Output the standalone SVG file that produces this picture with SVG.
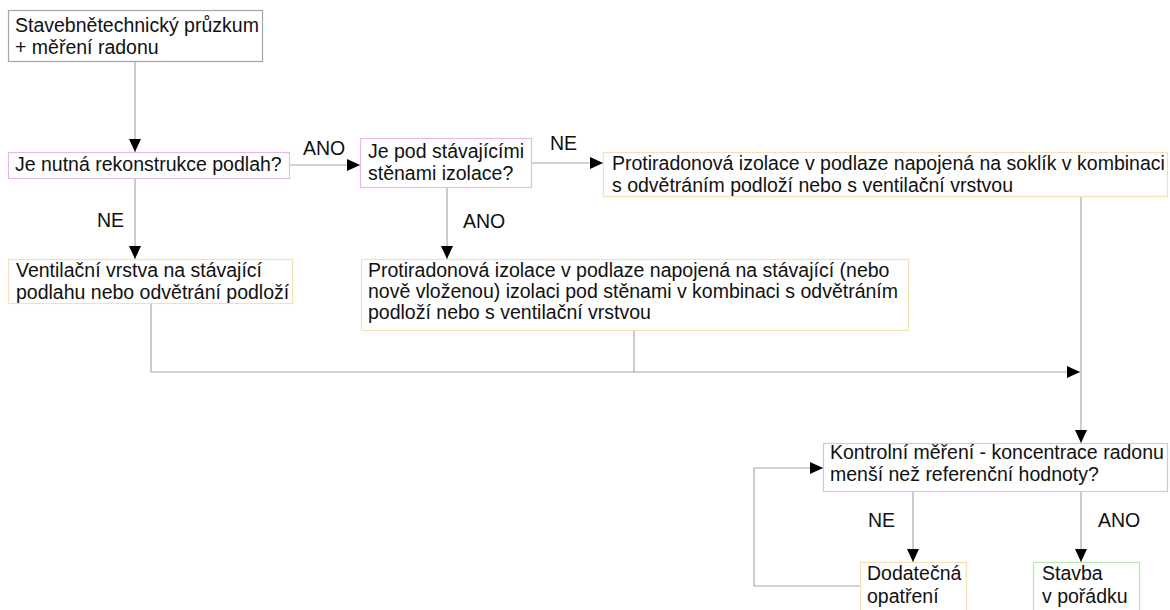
<svg xmlns="http://www.w3.org/2000/svg" width="1170" height="610" viewBox="0 0 1170 610">
  <style>
    text { font-family: "Liberation Sans", Arial, sans-serif; font-size: 19.5px; fill: #111; }
    .box { fill: #fff; stroke-width: 1.2; }
    .start { stroke: #a6a6a6; }
    .decision { stroke: #e8b8e8; }
    .action { stroke: #f3e2b6; }
    .ok { stroke: #b8e8b0; }
    .conn { fill: none; stroke: #a8a8a8; stroke-width: 1.2; }
  </style>
  <defs>
    <marker id="arrow" markerWidth="13" markerHeight="12" refX="13" refY="6" orient="auto" markerUnits="userSpaceOnUse">
      <path d="M0,0 L13,6 L0,12 Z" fill="#000"/>
    </marker>
  </defs>

  <rect width="1170" height="610" fill="#fff"/>

  <!-- connectors -->
  <g id="connectors">
    <path class="conn" d="M135,62 V152" marker-end="url(#arrow)"/>
    <path class="conn" d="M290,165 H360" marker-end="url(#arrow)"/>
    <path class="conn" d="M532,163 H603" marker-end="url(#arrow)"/>
    <path class="conn" d="M135,179 V259" marker-end="url(#arrow)"/>
    <path class="conn" d="M447,188 V259" marker-end="url(#arrow)"/>
    <path class="conn" d="M151,304 V372 H1080" marker-end="url(#arrow)"/>
    <path class="conn" d="M634,331 V372"/>
    <path class="conn" d="M1081,197 V443" marker-end="url(#arrow)"/>
    <path class="conn" d="M913,492 V562" marker-end="url(#arrow)"/>
    <path class="conn" d="M1081,492 V562" marker-end="url(#arrow)"/>
    <path class="conn" d="M860,586 H754 V468 H823" marker-end="url(#arrow)"/>
    <text x="303" y="155">ANO</text>
    <text x="550" y="150">NE</text>
    <text x="97" y="227">NE</text>
    <text x="463" y="228">ANO</text>
    <text x="868" y="527">NE</text>
    <text x="1098" y="527">ANO</text>
  </g>

  <g id="survey">
    <rect class="box start" x="8.5" y="10.5" width="254" height="51"/>
    <text x="15" y="32">Stavebnětechnický průzkum</text>
    <text x="15" y="54">+ měření radonu</text>
  </g>

  <g id="floor-reconstruction">
    <rect class="box decision" x="8.5" y="152.5" width="281" height="26"/>
    <text x="15" y="171">Je nutná rekonstrukce podlah?</text>
  </g>

  <g id="wall-insulation">
    <rect class="box decision" x="360.5" y="138.5" width="171" height="49"/>
    <text x="368" y="158">Je pod stávajícími</text>
    <text x="368" y="180">stěnami izolace?</text>
  </g>

  <g id="insulation-plinth">
    <rect class="box action" x="603.5" y="152.5" width="564" height="44"/>
    <text x="612" y="170">Protiradonová izolace v podlaze napojená na soklík v kombinaci</text>
    <text x="612" y="192">s odvětráním podloží nebo s ventilační vrstvou</text>
  </g>

  <g id="ventilation-layer">
    <rect class="box action" x="8.5" y="259.5" width="284" height="44"/>
    <text x="16" y="277">Ventilační vrstva na stávající</text>
    <text x="16" y="299">podlahu nebo odvětrání podloží</text>
  </g>

  <g id="insulation-walls">
    <rect class="box action" x="361.5" y="259.5" width="547" height="71"/>
    <text x="368" y="277">Protiradonová izolace v podlaze napojená na stávající (nebo</text>
    <text x="368" y="298">nově vloženou) izolaci pod stěnami v kombinaci s odvětráním</text>
    <text x="368" y="319">podloží nebo s ventilační vrstvou</text>
  </g>

  <g id="control-measurement">
    <rect class="box decision" x="823.5" y="443.5" width="344" height="48"/>
    <text x="830" y="459">Kontrolní měření - koncentrace radonu</text>
    <text x="830" y="481">menší než referenční hodnoty?</text>
  </g>

  <g id="additional-measures">
    <rect class="box action" x="860.5" y="562.5" width="106" height="60"/>
    <text x="867" y="580">Dodatečná</text>
    <text x="867" y="603">opatření</text>
  </g>

  <g id="building-ok">
    <rect class="box ok" x="1033.5" y="562.5" width="106" height="60"/>
    <text x="1042" y="580">Stavba</text>
    <text x="1042" y="603">v pořádku</text>
  </g>
</svg>
